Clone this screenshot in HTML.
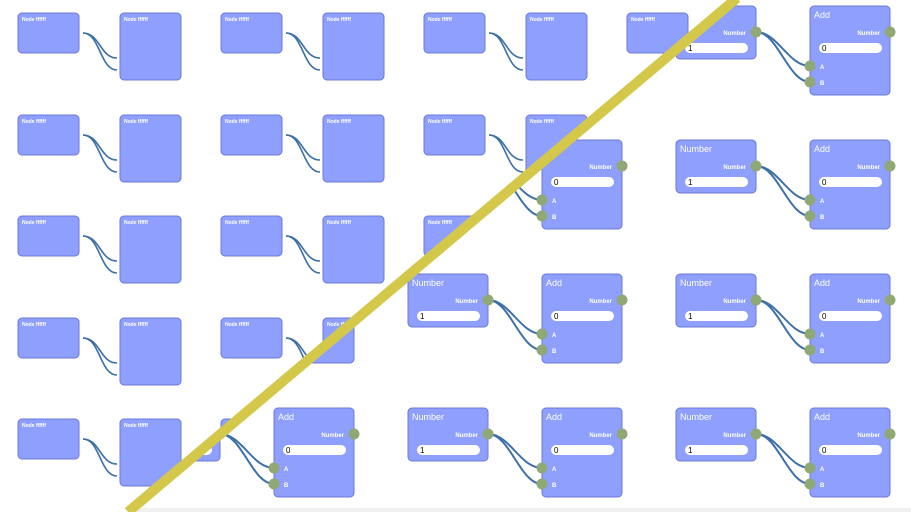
<!DOCTYPE html>
<html><head><meta charset="utf-8"><style>
html,body{margin:0;padding:0;background:#fff;width:911px;height:512px;overflow:hidden}
svg{display:block}
text{font-family:"Liberation Sans",sans-serif;fill:#fff}
</style></head><body>
<svg id="s" width="911" height="512" viewBox="0 0 911 512" xmlns="http://www.w3.org/2000/svg">
<defs>
<clipPath id="cs"><polygon points="0,0 737,-2 128,512 0,512"/></clipPath>
<clipPath id="cd"><polygon points="737,-2 911,-2 911,512 128,512"/></clipPath>
</defs>
<g id="simple" clip-path="url(#cs)"></g>
<g id="det" clip-path="url(#cd)"><rect x="0" y="508" width="911" height="4" fill="#f0f0f0"/></g>
<line x1="737" y1="-2" x2="128" y2="512" stroke="#d4c84a" stroke-width="10"/>
</svg>
<script>
var NS="http://www.w3.org/2000/svg";
function el(p,t,a,txt){var e=document.createElementNS(NS,t);for(var k in a)e.setAttribute(k,a[k]);if(txt!==undefined)e.textContent=txt;p.appendChild(e);return e;}
var S=document.getElementById('simple'),D=document.getElementById('det');
var nodeFill="#8f9ffd",nodeStroke="#6b78d8",wire="#3d70a8",port="#8fa876";
for(var c=0;c<5;c++)for(var r=0;r<5;r++){
 var x=18+203*c,y=Math.round(13+101.5*r);
 el(S,'rect',{x:x,y:y,width:61,height:40,rx:4,fill:nodeFill,stroke:nodeStroke,'stroke-width':1});
 el(S,'text',{x:x+4,y:y+8,'font-size':5,'font-weight':'bold'},'Node ffffff');
 el(S,'rect',{x:x+102,y:y,width:61,height:67,rx:4,fill:nodeFill,stroke:nodeStroke,'stroke-width':1});
 el(S,'text',{x:x+106,y:y+8,'font-size':5,'font-weight':'bold'},'Node ffffff');
 el(S,'path',{d:'M'+(x+65)+','+(y+20)+' C'+(x+82)+','+(y+20)+' '+(x+82)+','+(y+45)+' '+(x+99)+','+(y+45),fill:'none',stroke:wire,'stroke-width':1.6});
 el(S,'path',{d:'M'+(x+65)+','+(y+20)+' C'+(x+82)+','+(y+20)+' '+(x+82)+','+(y+57)+' '+(x+99)+','+(y+57),fill:'none',stroke:wire,'stroke-width':1.6});
}
for(var i=0;i<3;i++)for(var j=0;j<4;j++){
 var nx=140+268*i,y=6+134*j,ax=nx+134;
 el(D,'rect',{x:nx,y:y,width:80,height:53,rx:4,fill:nodeFill,stroke:nodeStroke,'stroke-width':1});
 el(D,'text',{x:nx+4,y:y+12,'font-size':9},'Number');
 el(D,'text',{x:nx+70,y:y+29,'font-size':6,'font-weight':'bold','text-anchor':'end'},'Number');
 el(D,'rect',{x:nx+9,y:y+37,width:63,height:10,rx:5,fill:'#fff'});
 el(D,'text',{x:nx+12,y:y+45,'font-size':8,style:'fill:#000'},'1');
 el(D,'rect',{x:ax,y:y,width:80,height:89,rx:4,fill:nodeFill,stroke:nodeStroke,'stroke-width':1});
 el(D,'text',{x:ax+4,y:y+12,'font-size':9},'Add');
 el(D,'text',{x:ax+70,y:y+29,'font-size':6,'font-weight':'bold','text-anchor':'end'},'Number');
 el(D,'rect',{x:ax+9,y:y+37,width:63,height:10,rx:5,fill:'#fff'});
 el(D,'text',{x:ax+12,y:y+45,'font-size':8,style:'fill:#000'},'0');
 el(D,'text',{x:ax+10,y:y+63,'font-size':6,'font-weight':'bold'},'A');
 el(D,'text',{x:ax+10,y:y+79,'font-size':6,'font-weight':'bold'},'B');
 var sx=nx+80,sy=y+26;
 [60,76].forEach(function(o){
  el(D,'path',{d:'M'+sx+','+sy+' C'+(sx+22)+','+sy+' '+(ax-22)+','+(y+o)+' '+ax+','+(y+o),fill:'none',stroke:wire,'stroke-width':2});
 });
 el(D,'circle',{cx:sx,cy:sy,r:5.5,fill:port});
 el(D,'circle',{cx:ax+80,cy:sy,r:5.5,fill:port});
 el(D,'circle',{cx:ax,cy:y+60,r:5.5,fill:port});
 el(D,'circle',{cx:ax,cy:y+76,r:5.5,fill:port});
}
</script>
</body></html>
